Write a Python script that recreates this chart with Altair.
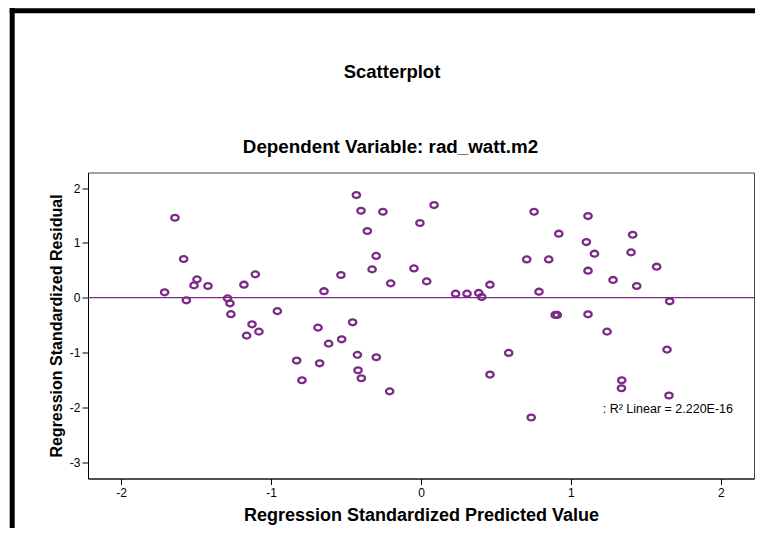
import altair as alt
import pandas as pd

# Regression standardized predicted values (x) and residuals (y)
pred = [-1.710, -1.641, -1.583, -1.565, -1.514, -1.494, -1.421, -1.290, -1.274, -1.268,
        -1.181, -1.163, -1.127, -1.105, -1.081, -0.958, -0.829, -0.794, -0.687, -0.676,
        -0.647, -0.616, -0.534, -0.529, -0.456, -0.431, -0.424, -0.420, -0.400, -0.398,
        -0.358, -0.326, -0.299, -0.298, -0.254, -0.202, -0.209, -0.047, -0.007, 0.038,
        0.087, 0.231, 0.307, 0.385, 0.405, 0.460, 0.460, 0.585, 0.705, 0.754,
        0.787, 0.735, 0.852, 0.919, 0.895, 0.909, 1.103, 1.114, 1.114, 1.114,
        1.157, 1.241, 1.281, 1.339, 1.337, 1.412, 1.401, 1.439, 1.572, 1.641,
        1.659, 1.654]
resid = [0.097, 1.458, 0.705, -0.049, 0.224, 0.334, 0.213, -0.013, -0.104, -0.301,
         0.237, -0.693, -0.487, 0.425, -0.620, -0.246, -1.148, -1.507, -0.547, -1.198,
         0.118, -0.839, 0.414, -0.760, -0.450, 1.872, -1.044, -1.325, 1.586, -1.471,
         1.216, 0.516, 0.762, -1.088, 1.568, 0.261, -1.710, 0.534, 1.362, 0.297,
         1.690, 0.073, 0.073, 0.086, 0.013, 0.237, -1.404, -1.008, 0.698, 1.568,
         0.109, -2.187, 0.698, 1.167, -0.315, -0.315, 1.015, 1.489, 0.492, -0.304,
         0.802, -0.620, 0.323, -1.507, -1.653, 1.148, 0.826, 0.213, 0.565, -0.948,
         -0.067, -1.786]

x_ticks = [-2, -1, 0, 1, 2]
y_ticks = [-3, -2, -1, 0, 1, 2]
x_domain = [-2.221, 2.221]
y_domain = [-3.30, 2.284]

titles = ["Scatterplot", "Dependent Variable: rad_watt.m2"]

fit_label = [": R\u00b2 Linear = 2.220E-16"]
fit_label_x = [1.212]
fit_label_y = [-2.023]

PURPLE = "#7b2a86"
FONT = "Liberation Sans"

df = pd.DataFrame({"x": pred, "y": resid})
lab = pd.DataFrame({"x": fit_label_x, "y": fit_label_y, "t": fit_label})

xscale = alt.Scale(domain=x_domain, nice=False, zero=False)
yscale = alt.Scale(domain=y_domain, nice=False, zero=False)

xaxis = alt.Axis(values=x_ticks, title="Regression Standardized Predicted Value",
                 labelExpr="'' + datum.value", grid=False)
yaxis = alt.Axis(values=y_ticks, title="Regression Standardized Residual",
                 labelExpr="'' + datum.value", grid=False)

ellipse = "M-1,0A1,0.8,0,1,0,1,0A1,0.8,0,1,0,-1,0Z"

points = alt.Chart(df).mark_point(
    shape=ellipse, filled=False, color=PURPLE, strokeWidth=2.3, size=54, opacity=1
).encode(
    x=alt.X("x:Q", scale=xscale, axis=xaxis),
    y=alt.Y("y:Q", scale=yscale, axis=yaxis),
)

zero = alt.Chart(pd.DataFrame({"z": [0]})).mark_rule(color=PURPLE, strokeWidth=1.2).encode(
    y=alt.Y("z:Q", scale=yscale)
)

text = alt.Chart(lab).mark_text(
    align="left", baseline="middle", font=FONT, fontSize=12.5, color="black"
).encode(
    x=alt.X("x:Q", scale=xscale),
    y=alt.Y("y:Q", scale=yscale),
    text="t:N",
)

title1 = alt.Chart(pd.DataFrame({"t": [titles[0]]})).mark_text(
    align="center", baseline="middle", font=FONT, fontSize=18.5, fontWeight="bold", color="black"
).encode(x=alt.value(304), y=alt.value(-100.5), text="t:N")
title2 = alt.Chart(pd.DataFrame({"t": [titles[1]]})).mark_text(
    align="center", baseline="middle", font=FONT, fontSize=18.8, fontWeight="bold", color="black"
).encode(x=alt.value(302.5), y=alt.value(-25.5), text="t:N")

border_left = alt.Chart(pd.DataFrame({"a": [0]})).mark_rule(color="black", strokeWidth=5).encode(
    x=alt.value(-75.8), y=alt.value(-164.5), y2=alt.value(356)
)
border_top = alt.Chart(pd.DataFrame({"a": [0]})).mark_rule(color="black", strokeWidth=5).encode(
    x=alt.value(-78.3), x2=alt.value(667), y=alt.value(-161.7)
)

chart = alt.layer(zero, points, text, title1, title2, border_left, border_top).properties(
    width=666,
    height=306,
    autosize=alt.AutoSizeParams(type="none"),
    padding={"left": 80, "top": 164.5, "right": 1, "bottom": 49.5},
).configure_view(
    stroke="#444", strokeWidth=1
).configure_axis(
    domainColor="black", tickColor="black", tickSize=6, labelPadding=2,
    labelFont=FONT, labelFontSize=12, labelColor="black",
    titleFont=FONT, titleFontWeight="bold", titleColor="black",
).configure_axisX(
    labelPadding=3, titlePadding=8, titleFontSize=18
).configure_axisY(
    titlePadding=5, titleFontSize=16
)

chart.save("out.html", embed_options={"renderer": "svg", "actions": False})
